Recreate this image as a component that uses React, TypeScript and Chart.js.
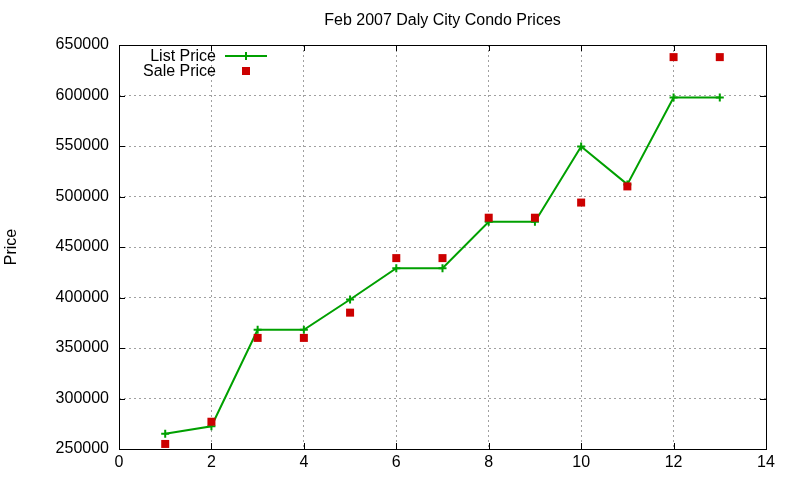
import { useEffect, useRef } from "react"
import { Chart, registerables, type ChartConfiguration, type Plugin } from "chart.js"

Chart.register(...registerables)

const units = [1, 2, 3, 4, 5, 6, 7, 8, 9, 10, 11, 12, 13]
const listPrices = [265000, 272500, 368000, 368000, 398000, 429000, 429000, 475000, 475000, 549500, 512000, 598000, 598000]
const salePrices = [255000, 277000, 360000, 360000, 385000, 439000, 439000, 479000, 479000, 494000, 510000, 638000, 638000]
const xTickStep = 2
const yTickStep = 50000

const FONT = "'Liberation Sans', Arial, sans-serif"
const GREEN = "#00a000"
const RED = "#cc0000"

// gnuplot-ish box: full frame plus inward ticks on all four sides
const framePlugin: Plugin = {
  id: "frame",
  afterDatasetsDraw(chart) {
    const { ctx, chartArea: a, scales } = chart
    ctx.save()
    ctx.strokeStyle = "#000"
    ctx.lineWidth = 1
    ctx.beginPath()
    for (const t of scales.x.ticks) {
      const px = Math.round(scales.x.getPixelForValue(t.value)) + 0.5
      ctx.moveTo(px, a.bottom)
      ctx.lineTo(px, a.bottom - 6)
      ctx.moveTo(px, a.top)
      ctx.lineTo(px, a.top + 6)
    }
    for (const t of scales.y.ticks) {
      const py = Math.round(scales.y.getPixelForValue(t.value)) + 0.5
      ctx.moveTo(a.left, py)
      ctx.lineTo(a.left + 6, py)
      ctx.moveTo(a.right, py)
      ctx.lineTo(a.right - 6, py)
    }
    ctx.stroke()
    ctx.strokeRect(Math.round(a.left) + 0.5, Math.round(a.top) + 0.5, Math.round(a.right - a.left), Math.round(a.bottom - a.top))
    ctx.restore()
  },
}

// key in the top-left corner, text right-aligned before the sample
const keyPlugin: Plugin = {
  id: "gnuKey",
  afterDatasetsDraw(chart) {
    const ctx = chart.ctx
    ctx.save()
    ctx.font = `16px ${FONT}`
    ctx.textAlign = "right"
    ctx.textBaseline = "middle"
    chart.data.datasets.forEach((ds: any, i) => {
      const y = 56 + i * 15
      ctx.fillStyle = "#000"
      ctx.fillText(ds.label, 216, y + 1)
      if (ds.showLine !== false) {
        ctx.strokeStyle = ds.borderColor
        ctx.lineWidth = 2
        ctx.beginPath()
        ctx.moveTo(225, y)
        ctx.lineTo(267, y)
        ctx.moveTo(246, y - 4)
        ctx.lineTo(246, y + 4)
        ctx.stroke()
      } else {
        ctx.fillStyle = ds.backgroundColor
        ctx.fillRect(242, y - 4, 8, 8)
      }
    })
    ctx.restore()
  },
}

export default function App() {
  const chartRef = useRef<HTMLCanvasElement>(null)
  const chartInstance = useRef<Chart | null>(null)

  useEffect(() => {
    if (!chartRef.current) return
    if (chartInstance.current) chartInstance.current.destroy()

    const config: ChartConfiguration = {
      type: "line",
      data: {
        datasets: [
          {
            label: "List Price",
            data: units.map((u, i) => ({ x: u, y: listPrices[i] })),
            borderColor: GREEN,
            backgroundColor: GREEN,
            borderWidth: 2,
            pointStyle: "cross",
            pointRadius: 4,
            pointBorderWidth: 2,
            pointBorderColor: GREEN,
            tension: 0,
            order: 1,
          },
          {
            label: "Sale Price",
            data: units.map((u, i) => ({ x: u, y: salePrices[i] })),
            showLine: false,
            backgroundColor: RED,
            borderColor: RED,
            pointStyle: "rect",
            pointRadius: 5.66,
            pointBorderWidth: 0,
            order: 0,
          },
        ],
      },
      options: {
        animation: false,
        responsive: true,
        maintainAspectRatio: false,
        devicePixelRatio: 1,
        layout: { padding: { left: 0, right: 34, top: 0, bottom: 0 } },
        scales: {
          x: {
            type: "linear",
            min: 0,
            max: 14,
            ticks: { stepSize: xTickStep, color: "#000", font: { family: FONT, size: 16 }, padding: 4 },
            grid: { color: "#a0a0a0", drawTicks: false, lineWidth: 1 },
            border: { display: false, dash: [2, 3] },
            afterFit: (s: any) => {
              s.height = 31
            },
          },
          y: {
            type: "linear",
            min: 250000,
            max: 650000,
            ticks: {
              stepSize: yTickStep,
              color: "#000",
              font: { family: FONT, size: 16 },
              padding: 10,
              callback: (v: any) => String(v),
            },
            grid: { color: "#a0a0a0", drawTicks: false, lineWidth: 1 },
            border: { display: false, dash: [2, 3] },
            title: {
              display: true,
              text: "Price",
              color: "#000",
              font: { family: FONT, size: 16 },
              padding: { top: 2, bottom: 0 },
            },
            afterFit: (s: any) => {
              s.width = 119
            },
          },
        },
        plugins: {
          legend: { display: false },
          tooltip: { enabled: false },
          title: {
            display: true,
            text: "Feb 2007 Daly City Condo Prices",
            color: "#000",
            fullSize: false,
            font: { family: FONT, size: 16, weight: "normal" },
            padding: { top: 11, bottom: 14.8 },
          },
        },
      },
      plugins: [framePlugin, keyPlugin],
    }

    chartInstance.current = new Chart(chartRef.current, config)

    return () => {
      if (chartInstance.current) {
        chartInstance.current.destroy()
        chartInstance.current = null
      }
    }
  }, [])

  return (
    <div style={{ position: "absolute", left: 0, top: 0, width: 800, height: 480, background: "#fff" }}>
      <canvas ref={chartRef}></canvas>
    </div>
  )
}
